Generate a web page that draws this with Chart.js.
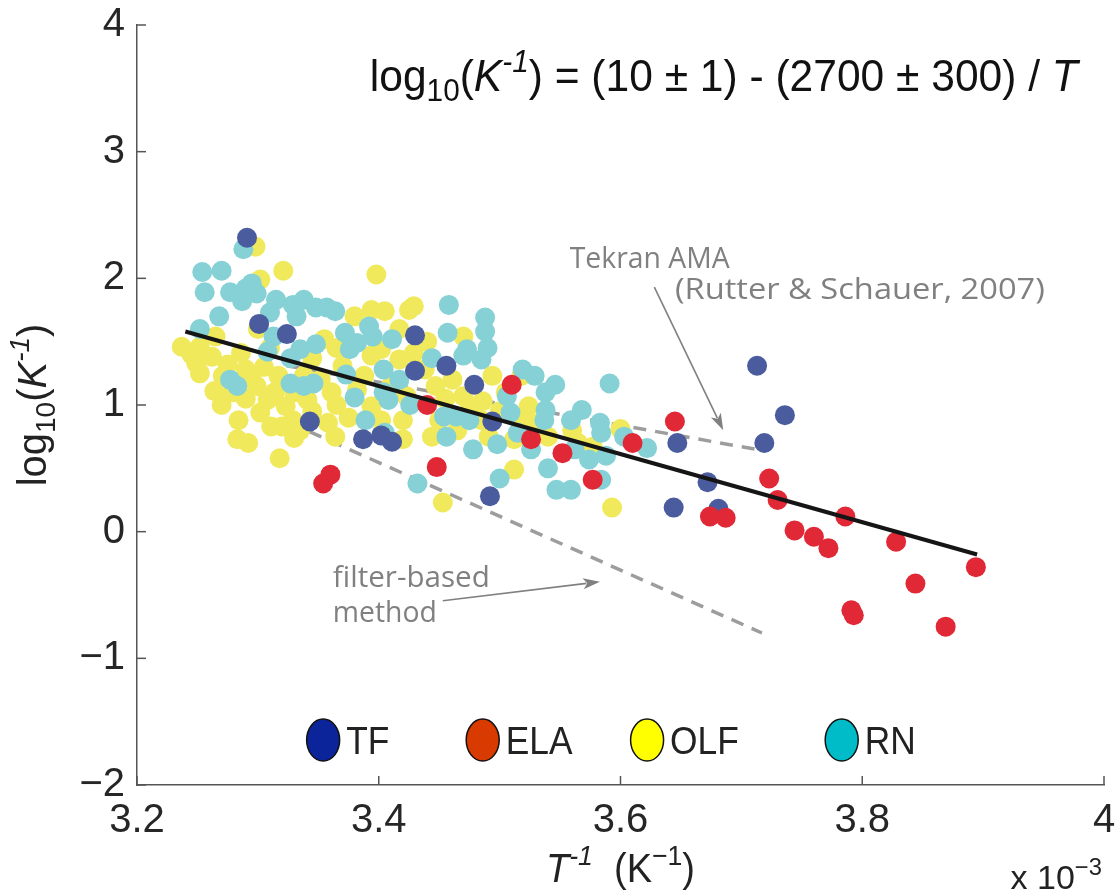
<!DOCTYPE html>
<html>
<head>
<meta charset="utf-8">
<title>log10(K-1) vs 1/T</title>
<script src="https://cdn.jsdelivr.net/npm/chart.js@4.4.0/dist/chart.umd.min.js"></script>
<style>
  html, body { margin: 0; padding: 0; background: #fff; }
  #c { display: block; }
</style>
</head>
<body>
<canvas id="c" width="1116" height="891"></canvas>
<script>
// x values are T^-1 in units of 1e-3 K^-1, y values are log10(K^-1)

// --- TF ---
const tfX = [3.291, 3.301, 3.324, 3.430, 3.430, 3.456, 3.479, 3.343, 3.387, 3.402,
             3.411, 3.494, 3.492, 3.647, 3.713, 3.736, 3.719, 3.672, 3.644, 3.681];
const tfY = [2.32, 1.64, 1.56, 1.55, 1.27, 1.31, 1.16, 0.87, 0.73, 0.76,
             0.71, 0.87, 0.28, 0.70, 1.31, 0.92, 0.70, 0.39, 0.19, 0.18];

// --- ELA ---
const elaX = [3.354, 3.360, 3.440, 3.448, 3.510, 3.526, 3.552, 3.577, 3.610, 3.645,
              3.674, 3.687, 3.723, 3.730, 3.744, 3.760, 3.772, 3.786, 3.791, 3.793,
              3.828, 3.844, 3.869, 3.894];
const elaY = [0.38, 0.45, 1.00, 0.51, 1.16, 0.73, 0.62, 0.41, 0.70, 0.87,
              0.12, 0.11, 0.42, 0.25, 0.01, -0.04, -0.13, 0.12, -0.62, -0.66,
              -0.08, -0.41, -0.75, -0.28];

// --- OLF ---
const olfX = [3.298, 3.302, 3.321, 3.398, 3.237, 3.252, 3.265, 3.249, 3.252, 3.262,
              3.264, 3.279, 3.271, 3.290, 3.284, 3.283, 3.292, 3.318, 3.299, 3.308,
              3.302, 3.317, 3.314, 3.323, 3.311, 3.320, 3.329, 3.330, 3.341, 3.338,
              3.345, 3.355, 3.286, 3.358, 3.364, 3.370, 3.382, 3.394, 3.402, 3.388,
              3.394, 3.380, 3.394, 3.405, 3.417, 3.425, 3.429, 3.402, 3.417, 3.429,
              3.438, 3.423, 3.420, 3.420, 3.444, 3.450, 3.447, 3.461, 3.470, 3.470,
              3.476, 3.486, 3.494, 3.491, 3.485, 3.512, 3.512, 3.518, 3.524, 3.519,
              3.453, 3.593, 3.600, 3.577, 3.352, 3.361, 3.270, 3.295, 3.305, 3.330,
              3.345, 3.335, 3.290, 3.275, 3.310, 3.365, 3.375, 3.410, 3.455, 3.465,
              3.500, 3.530, 3.540, 3.560, 3.565, 3.505, 3.440, 3.365, 3.245, 3.300];
const olfY = [2.25, 1.99, 2.06, 2.03, 1.46, 1.46, 1.54, 1.33, 1.25, 1.38,
              1.11, 1.10, 1.23, 1.28, 0.88, 0.73, 0.70, 0.58, 1.15, 1.04,
              0.94, 1.23, 1.10, 0.99, 0.83, 0.83, 0.88, 0.74, 1.04, 1.23,
              1.37, 1.52, 1.41, 0.86, 0.75, 1.31, 1.12, 0.99, 0.88, 1.23,
              1.39, 1.70, 1.75, 1.74, 1.60, 1.75, 1.78, 1.44, 1.36, 1.41,
              1.28, 1.07, 0.88, 0.73, 0.75, 0.88, 1.15, 1.20, 1.54, 1.07,
              0.99, 1.03, 1.23, 0.75, 0.88, 0.73, 0.49, 1.23, 0.99, 0.88,
              0.23, 0.19, 0.81, 0.67, 1.20, 1.10, 1.00, 1.20, 1.30, 1.10,
              0.95, 0.80, 1.05, 1.32, 1.45, 1.00, 0.90, 1.15, 1.05, 0.80,
              0.95, 0.85, 0.75, 0.80, 0.70, 1.10, 1.50, 1.45, 1.40, 1.60];

// --- RN ---
const rnX = [3.288, 3.254, 3.270, 3.256, 3.277, 3.290, 3.299, 3.287, 3.295, 3.268,
             3.252, 3.315, 3.329, 3.338, 3.348, 3.357, 3.364, 3.310, 3.313, 3.332,
             3.348, 3.335, 3.327, 3.308, 3.277, 3.283, 3.327, 3.338, 3.346, 3.372,
             3.382, 3.392, 3.395, 3.376, 3.411, 3.404, 3.417, 3.404, 3.380, 3.389,
             3.408, 3.426, 3.373, 3.405, 3.444, 3.458, 3.457, 3.488, 3.488, 3.490,
             3.473, 3.485, 3.470, 3.454, 3.464, 3.475, 3.456, 3.478, 3.498, 3.506,
             3.509, 3.519, 3.529, 3.546, 3.538, 3.538, 3.537, 3.515, 3.526, 3.540,
             3.547, 3.559, 3.500, 3.568, 3.559, 3.583, 3.584, 3.574, 3.588, 3.591,
             3.562, 3.603, 3.622, 3.584, 3.432];
const rnY = [2.23, 2.05, 2.06, 1.89, 1.89, 1.92, 1.88, 1.82, 1.96, 1.70,
             1.60, 1.83, 1.79, 1.83, 1.77, 1.77, 1.74, 1.73, 1.54, 1.70,
             1.48, 1.44, 1.37, 1.42, 1.20, 1.15, 1.17, 1.15, 1.17, 1.57,
             1.49, 1.62, 1.54, 1.44, 1.52, 1.28, 1.20, 1.10, 1.06, 0.88,
             1.04, 1.00, 1.24, 0.78, 1.37, 1.79, 1.57, 1.69, 1.58, 1.45,
             1.44, 1.36, 1.39, 0.91, 0.91, 0.88, 0.75, 0.65, 0.69, 1.07,
             0.94, 1.28, 1.23, 1.16, 1.10, 0.96, 0.88, 0.78, 0.65, 0.50,
             0.33, 0.33, 0.42, 0.96, 0.88, 0.86, 0.78, 0.57, 0.60, 1.17,
             0.65, 0.75, 0.66, 0.41, 0.38];

// regression line and the two reference lines
const fitX = [3.240, 3.895];
const fitY = [1.58, -0.18];
const tekranX = [3.324, 3.712];
const tekranY = [1.31, 0.65];
const filterX = [3.326, 3.717];
const filterY = [0.86, -0.80];

// axes
const xTicks = [3.2, 3.4, 3.6, 3.8, 4.0];
const yTicks = [-2, -1, 0, 1, 2, 3, 4];

// legend
const legendLabels = ['TF', 'ELA', 'OLF', 'RN'];
const legendColors = ['#0c2499', '#d83a00', '#ffff00', '#00bcc8'];

// ------------------------------------------------------------------
const SANS = "'Liberation Sans', Arial, Helvetica, sans-serif";
const NOTE = "'Open Sans', 'Noto Sans', sans-serif";

const colors = {
    tf: '#4a5c9d',
    ela: '#e12836',
    olf: '#f1e95c',
    rn: '#85d1d5',
    fit: '#151515',
    dash: '#9d9d9d',
    note: '#808080',
    axis: '#555555',
    text: '#262626'
};

const pts = (xs, ys) => xs.map((v, i) => ({ x: v, y: ys[i] }));

// rich text: segments with italic / superscript / subscript
function drawRich(ctx, segs, x, y, size, opts) {
    opts = opts || {};
    const family = opts.family || SANS;
    const fontFor = s => (s.it ? 'italic ' : '') + ((s.sup || s.sub) ? size * 0.7 : size) + 'px ' + family;
    let total = 0;
    const widths = segs.map(s => {
        ctx.font = fontFor(s);
        const w = ctx.measureText(s.t).width;
        total += w;
        return w;
    });
    const sx = opts.width ? opts.width / total : (opts.sx || 1);
    ctx.save();
    ctx.translate(x, y);
    if (opts.rotate) ctx.rotate(opts.rotate);
    ctx.scale(sx, 1);
    ctx.fillStyle = opts.color || colors.text;
    ctx.textBaseline = 'alphabetic';
    ctx.textAlign = 'left';
    let cx = opts.align === 'center' ? -total / 2 : (opts.align === 'right' ? -total : 0);
    segs.forEach((s, i) => {
        ctx.font = fontFor(s);
        const dy = s.sup ? -size * 0.42 : (s.sub ? size * 0.22 : 0);
        ctx.fillText(s.t, cx, dy);
        cx += widths[i];
    });
    ctx.restore();
}

function arrow(ctx, x0, y0, x1, y1) {
    const ang = Math.atan2(y1 - y0, x1 - x0);
    const len = 17, half = 5.5;
    ctx.beginPath();
    ctx.moveTo(x0, y0);
    ctx.lineTo(x1 - Math.cos(ang) * len * 0.8, y1 - Math.sin(ang) * len * 0.8);
    ctx.stroke();
    ctx.beginPath();
    ctx.moveTo(x1, y1);
    ctx.lineTo(x1 - Math.cos(ang) * len - Math.sin(ang) * half, y1 - Math.sin(ang) * len + Math.cos(ang) * half);
    ctx.lineTo(x1 - Math.cos(ang) * len * 0.75, y1 - Math.sin(ang) * len * 0.75);
    ctx.lineTo(x1 - Math.cos(ang) * len + Math.sin(ang) * half, y1 - Math.sin(ang) * len - Math.cos(ang) * half);
    ctx.closePath();
    ctx.fill();
}

// ====================================
// overlay: inward ticks, labels, notes, legend
// ====================================
const overlay = {
    id: 'overlay',
    afterDraw(chart) {
        const { ctx, chartArea: a } = chart;
        const sx = chart.scales.x, sy = chart.scales.y;
        const px = v => sx.getPixelForValue(v);
        const py = v => sy.getPixelForValue(v);

        // inward tick marks
        ctx.save();
        ctx.strokeStyle = colors.axis;
        ctx.lineWidth = 1.5;
        yTicks.forEach(v => {
            ctx.beginPath();
            ctx.moveTo(a.left, py(v));
            ctx.lineTo(a.left + 9, py(v));
            ctx.stroke();
        });
        xTicks.forEach(v => {
            ctx.beginPath();
            ctx.moveTo(px(v), a.bottom);
            ctx.lineTo(px(v), a.bottom - 9);
            ctx.stroke();
        });
        ctx.restore();

        // equation
        drawRich(ctx, [
            { t: 'log' }, { t: '10', sub: true }, { t: '(' }, { t: 'K', it: true },
            { t: '-1', it: true, sup: true },
            { t: ') = (10 \u00b1 1) - (2700 \u00b1 300) / ' }, { t: 'T', it: true }
        ], px(3.3926), py(3.48), 44, { width: 708, color: '#111' });

        // notes and arrows
        ctx.save();
        ctx.strokeStyle = colors.note;
        ctx.fillStyle = colors.note;
        ctx.lineWidth = 1.6;
        arrow(ctx, px(3.628), py(1.93), px(3.685), py(0.80));
        arrow(ctx, px(3.453), py(-0.545), px(3.583), py(-0.395));
        ctx.restore();

        drawRich(ctx, [{ t: 'Tekran AMA' }], px(3.558), py(2.085), 30,
            { family: NOTE, width: 160, color: colors.note });
        drawRich(ctx, [{ t: '(Rutter & Schauer, 2007)' }], px(3.645), py(1.833), 30,
            { family: NOTE, width: 370, color: colors.note });
        drawRich(ctx, [{ t: 'filter-based' }], px(3.362), py(-0.44), 29,
            { family: NOTE, width: 157, color: colors.note });
        drawRich(ctx, [{ t: 'method' }], px(3.362), py(-0.71), 29,
            { family: NOTE, width: 104, color: colors.note });

        // legend
        const legendPos = [3.354, 3.486, 3.622, 3.783];
        legendLabels.forEach((lab, i) => {
            const cx = px(legendPos[i]), cy = py(-1.645);
            ctx.save();
            ctx.beginPath();
            ctx.ellipse(cx, cy, 16.5, 21, 0, 0, Math.PI * 2);
            ctx.fillStyle = legendColors[i];
            ctx.fill();
            ctx.lineWidth = 1.5;
            ctx.strokeStyle = '#111';
            ctx.stroke();
            ctx.restore();
            drawRich(ctx, [{ t: lab }], cx + 23, cy + 14, 38, { sx: 0.93, color: '#222' });
        });

        // axis titles
        drawRich(ctx, [
            { t: 'log' }, { t: '10', sub: true }, { t: '(' }, { t: 'K', it: true },
            { t: '-1', it: true, sup: true }, { t: ')' }
        ], 46, (a.top + a.bottom) / 2, 40, { rotate: -Math.PI / 2, align: 'center', color: '#222' });

        drawRich(ctx, [
            { t: 'T', it: true }, { t: '-1', it: true, sup: true }, { t: '  (K' },
            { t: '\u22121', sup: true }, { t: ')' }
        ], (a.left + a.right) / 2, 882, 40, { align: 'center', sx: 0.95, color: '#222' });

        drawRich(ctx, [{ t: 'x 10' }, { t: '\u22123', sup: true }], a.right - 2, 889, 34,
            { align: 'right', color: '#222' });
    }
};

new Chart(document.getElementById('c'), {
    type: 'scatter',
    data: {
        datasets: [
            {
                label: 'fit', type: 'line', data: pts(fitX, fitY),
                borderColor: colors.fit, borderWidth: 4, pointRadius: 0, fill: false, order: 0
            },
            { label: 'ELA', data: pts(elaX, elaY), backgroundColor: colors.ela, order: 1 },
            { label: 'TF', data: pts(tfX, tfY), backgroundColor: colors.tf, order: 2 },
            { label: 'RN', data: pts(rnX, rnY), backgroundColor: colors.rn, order: 3 },
            { label: 'OLF', data: pts(olfX, olfY), backgroundColor: colors.olf, order: 4 },
            {
                label: 'Tekran AMA', type: 'line', data: pts(tekranX, tekranY),
                borderColor: colors.dash, borderWidth: 3.5, borderDash: [13, 9],
                pointRadius: 0, fill: false, order: 5
            },
            {
                label: 'filter-based', type: 'line', data: pts(filterX, filterY),
                borderColor: colors.dash, borderWidth: 3.5, borderDash: [13, 9],
                pointRadius: 0, fill: false, order: 6
            }
        ]
    },
    options: {
        responsive: false,
        animation: false,
        layout: { padding: { top: 25, right: 12, left: 0, bottom: 0 } },
        elements: { point: { radius: 10, hoverRadius: 10, borderWidth: 0 } },
        plugins: { legend: { display: false }, tooltip: { enabled: false } },
        scales: {
            x: {
                type: 'linear', min: 3.2, max: 4.0,
                afterBuildTicks: s => { s.ticks = xTicks.map(v => ({ value: v })); },
                afterFit: s => { s.height = 106; s.paddingLeft = 0; s.paddingRight = 0; },
                ticks: {
                    callback: v => (Math.round(v * 10) / 10).toString(),
                    font: { family: SANS, size: 40 }, color: colors.text,
                    padding: 12, maxRotation: 0, autoSkip: false
                },
                grid: { display: false, drawTicks: false },
                border: { display: true, color: colors.axis, width: 1.5 }
            },
            y: {
                type: 'linear', min: -2, max: 4,
                afterBuildTicks: s => { s.ticks = yTicks.map(v => ({ value: v })); },
                afterFit: s => { s.width = 137; s.paddingTop = 0; s.paddingBottom = 0; },
                ticks: {
                    callback: v => String(v).replace('-', '\u2212'),
                    font: { family: SANS, size: 40 }, color: colors.text,
                    padding: 12, autoSkip: false
                },
                grid: { display: false, drawTicks: false },
                border: { display: true, color: colors.axis, width: 1.5 }
            }
        }
    },
    plugins: [overlay]
});
</script>
</body>
</html>
